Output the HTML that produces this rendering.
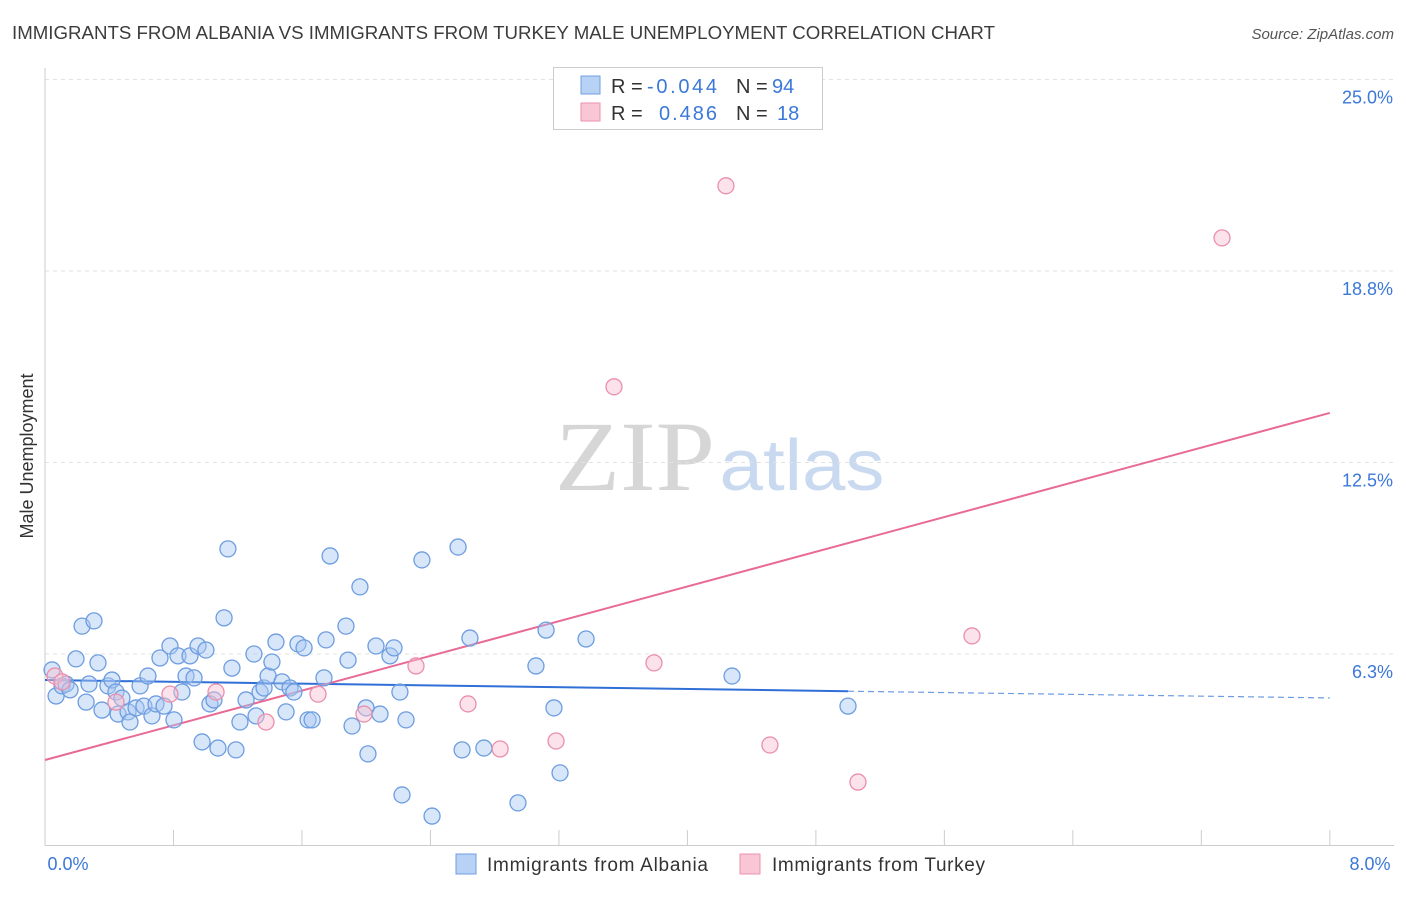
<!DOCTYPE html>
<html><head><meta charset="utf-8">
<style>
body{margin:0;background:#fff;font-family:"Liberation Sans",sans-serif;}
svg text{font-family:"Liberation Sans",sans-serif;}
</style></head>
<body>
<svg id="chart" width="1406" height="892" viewBox="0 0 1406 892" xmlns="http://www.w3.org/2000/svg">
<text x="12" y="39" font-size="18" fill="#3c3c3c" textLength="983" lengthAdjust="spacingAndGlyphs">IMMIGRANTS FROM ALBANIA VS IMMIGRANTS FROM TURKEY MALE UNEMPLOYMENT CORRELATION CHART</text>
<text x="1394" y="39" font-size="15" fill="#555" text-anchor="end" font-style="italic">Source: ZipAtlas.com</text>
<text transform="translate(33,456) rotate(-90)" font-size="18" fill="#333" text-anchor="middle">Male Unemployment</text>
<g>
<text x="635" y="490" font-size="100" fill="#d6d6d6" style="font-family:'Liberation Serif',serif" text-anchor="middle" textLength="160" lengthAdjust="spacingAndGlyphs">ZIP</text>
<text x="802" y="490" font-size="72" fill="#c9daf0" text-anchor="middle" textLength="165" lengthAdjust="spacingAndGlyphs">atlas</text>
</g>
<g id="grid"></g>
<g id="axes"></g>
<g id="trend"></g>
<g id="points"></g>
<g>
<rect x="553.5" y="67.5" width="269" height="62" fill="#fff" stroke="#ccc"/>
<rect x="581" y="76" width="19" height="18" fill="#b8d2f5" stroke="#6f9fe0"/>
<rect x="581" y="103" width="19" height="18" fill="#f9c6d5" stroke="#ec92ae"/>
<text x="611" y="93" font-size="20" fill="#333">R =</text>
<text x="647" y="93" font-size="20" fill="#3b78d8" textLength="70">-0.044</text>
<text x="736" y="93" font-size="20" fill="#333">N =</text>
<text x="772" y="93" font-size="20" fill="#3b78d8">94</text>
<text x="611" y="120" font-size="20" fill="#333">R =</text>
<text x="659" y="120" font-size="20" fill="#3b78d8" textLength="58">0.486</text>
<text x="736" y="120" font-size="20" fill="#333">N =</text>
<text x="777" y="120" font-size="20" fill="#3b78d8">18</text>
</g>
<g>
<rect x="456" y="854" width="20" height="20" fill="#b8d2f5" stroke="#6f9fe0"/>
<text x="487" y="871" font-size="19" fill="#333" textLength="221">Immigrants from Albania</text>
<rect x="740" y="854" width="20" height="20" fill="#f9c6d5" stroke="#ec92ae"/>
<text x="772" y="871" font-size="19" fill="#333" textLength="213">Immigrants from Turkey</text>
</g>
</svg>
<script>
const yTicks=[6.25,12.5,18.75,25];
const yTickLabels=["6.3%","12.5%","18.8%","25.0%"];
const xTickLabels=["0.0%","8.0%"];
const albaniaX=[0.044,0.069,0.106,0.131,0.156,0.193,0.231,0.256,0.274,0.305,0.330,0.355,0.392,0.417,0.442,0.455,0.479,0.517,0.529,0.567,0.592,0.616,0.641,0.666,0.691,0.716,0.741,0.778,0.803,0.828,0.853,0.878,0.903,0.928,0.953,0.978,1.002,1.027,1.052,1.077,1.115,1.139,1.164,1.189,1.214,1.252,1.301,1.314,1.339,1.364,1.389,1.413,1.438,1.476,1.501,1.526,1.550,1.575,1.613,1.638,1.663,1.737,1.750,1.775,1.874,1.887,1.912,1.961,1.999,2.011,2.061,2.086,2.148,2.173,2.210,2.223,2.248,2.347,2.410,2.572,2.597,2.646,2.733,2.945,3.057,3.120,3.169,3.207,3.369,4.278,5.000];
const albaniaY=[5.73,4.88,5.21,5.27,5.08,6.09,7.16,4.68,5.27,7.33,5.96,4.42,5.21,5.40,5.01,4.29,4.81,4.36,4.03,4.49,5.21,4.55,5.53,4.23,4.62,6.12,4.55,6.51,4.10,6.19,5.01,5.53,6.19,5.47,6.51,3.38,6.38,4.62,4.75,3.18,7.43,9.68,5.79,3.12,4.03,4.75,6.25,4.23,5.01,5.14,5.53,5.99,6.64,5.34,4.36,5.14,5.01,6.58,6.45,4.10,4.10,5.47,6.71,9.45,7.16,6.05,3.90,8.44,4.49,2.99,6.51,4.29,6.19,6.45,5.01,1.65,4.10,9.32,0.96,9.74,3.12,6.77,3.18,1.39,5.86,7.03,4.49,2.37,6.74,5.53,4.55];
const turkeyX=[0.062,0.106,0.442,0.778,1.065,1.376,1.700,1.986,2.310,2.634,2.834,3.182,3.543,3.792,4.240,4.514,5.062,5.772,7.329];
const turkeyY=[5.53,5.34,4.68,4.94,5.01,4.03,4.94,4.29,5.86,4.62,3.15,3.41,14.97,5.96,21.53,3.28,2.07,6.84,19.83];
const albaniaTrend=[5.40,-0.073];
const turkeyTrend=[2.79,1.416];

const NS="http://www.w3.org/2000/svg";
const X=v=>45+v*160.6;
const Y=v=>845.5-v*30.64;
function mk(tag,attrs,parent){const e=document.createElementNS(NS,tag);for(const k in attrs)e.setAttribute(k,attrs[k]);parent.appendChild(e);return e;}
const grid=document.getElementById('grid'),axes=document.getElementById('axes'),trend=document.getElementById('trend'),pts=document.getElementById('points');
yTicks.forEach((t,i)=>{
 const l=mk('line',{x1:45,x2:1394,y1:Y(t),y2:Y(t),stroke:'#e2e2e2','stroke-dasharray':'4,4'},grid);
 
 
 const tx=mk('text',{x:1393,y:Y(t)+24,'font-size':18,fill:'#3b78d8','text-anchor':'end'},grid);
 tx.textContent=yTickLabels[i];
 
 
});
const ax=mk('line',{x1:45,x2:1394,y1:845.5,y2:845.5,stroke:'#ccc'},axes);


const ay=mk('line',{x1:45,x2:45,y1:68,y2:845.5,stroke:'#ccc'},axes);


for(let i=0;i<=10;i++){
 const t=mk('line',{x1:X(i*0.8),x2:X(i*0.8),y1:830,y2:845.5,stroke:'#ccc'},axes);
 
 
}
[[0,68,'middle'],[8,1370,'middle']].forEach((d,i)=>{
 const tx=mk('text',{x:d[1],y:870,'font-size':18,fill:'#3b78d8','text-anchor':d[2]},axes);
 tx.textContent=xTickLabels[i];
 
 
});
function drawPts(xs,ys,fill,stroke,name){
 xs.forEach((x,i)=>{
  const c=mk('circle',{cx:X(x),cy:Y(ys[i]),r:8,fill:fill,'fill-opacity':0.45,stroke:stroke,'stroke-width':1.3},pts);
  
  
 });
}
drawPts(albaniaX,albaniaY,'#a9c8f2','#6d9de0','albania-point');
drawPts(turkeyX,turkeyY,'#f8bfd0','#ea8fab','turkey-point');
const bl=mk('line',{x1:X(0),y1:Y(albaniaTrend[0]),x2:X(5),y2:Y(albaniaTrend[0]+albaniaTrend[1]*5),stroke:'#2f6fd6','stroke-width':2},trend);


const bd=mk('line',{x1:X(5),y1:Y(albaniaTrend[0]+albaniaTrend[1]*5),x2:X(8),y2:Y(albaniaTrend[0]+albaniaTrend[1]*8),stroke:'#2f6fd6','stroke-width':1.2,'stroke-dasharray':'6,4','stroke-opacity':0.7},trend);


const pl=mk('line',{x1:X(0),y1:Y(turkeyTrend[0]),x2:X(8),y2:Y(turkeyTrend[0]+turkeyTrend[1]*8),stroke:'#e86a95','stroke-width':2},trend);


</script>
</body></html>
